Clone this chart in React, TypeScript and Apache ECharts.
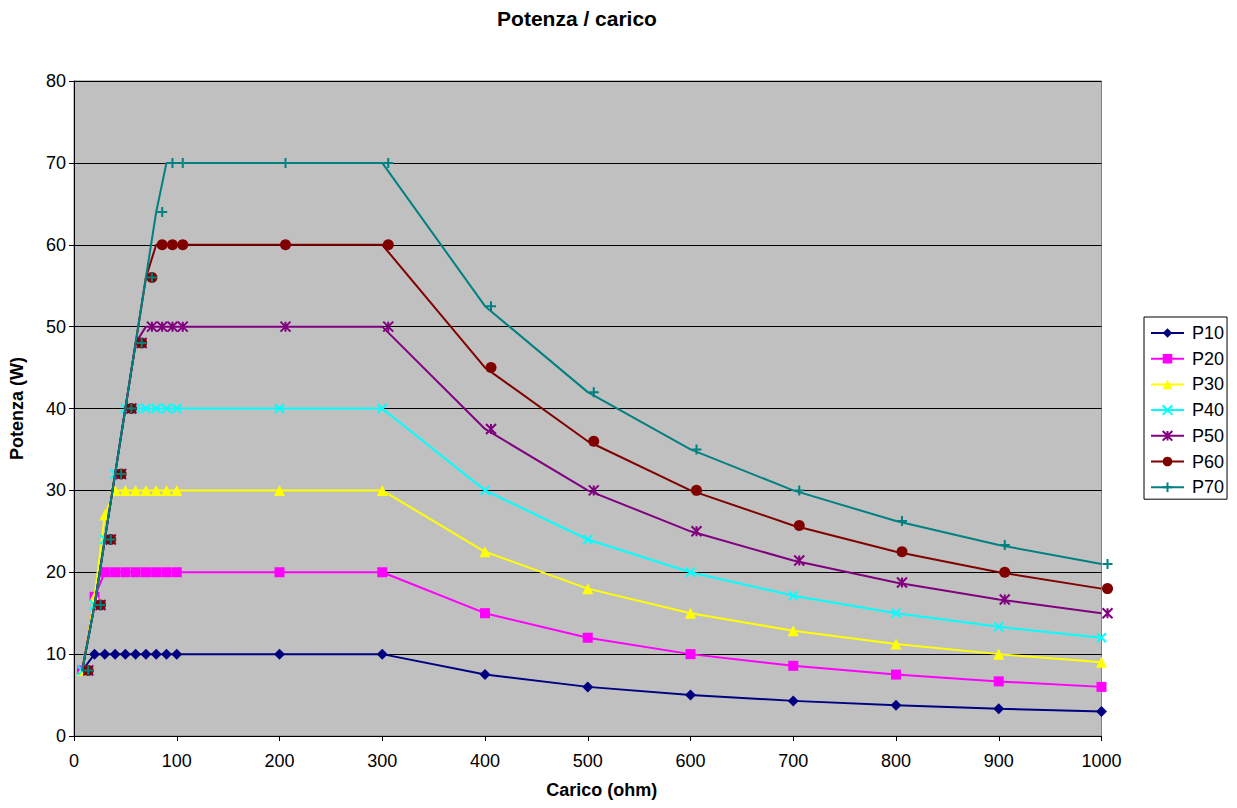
import React, { useEffect, useRef } from "react";
import * as echarts from "echarts";

// Load resistance (ohm) — shared x values
const resistance = [8, 20, 30, 40, 50, 60, 70, 80, 90, 100, 200, 300, 400, 500, 600, 700, 800, 900, 1000];

// Power (W) per series
const p10 = [8, 10, 10, 10, 10, 10, 10, 10, 10, 10, 10, 10, 7.5, 6, 5, 4.29, 3.75, 3.33, 3];
const p20 = [8, 17, 20, 20, 20, 20, 20, 20, 20, 20, 20, 20, 15, 12, 10, 8.57, 7.5, 6.67, 6];
const p30 = [8, 17, 27, 30, 30, 30, 30, 30, 30, 30, 30, 30, 22.5, 18, 15, 12.86, 11.25, 10, 9];
const p40 = [8, 16, 24, 32, 40, 40, 40, 40, 40, 40, 40, 40, 30, 24, 20, 17.14, 15, 13.33, 12];
const p50 = [8, 16, 24, 32, 40, 48, 50, 50, 50, 50, 50, 50, 37.5, 30, 25, 21.43, 18.75, 16.67, 15];
const p60 = [8, 16, 24, 32, 40, 48, 56, 60, 60, 60, 60, 60, 45, 36, 30, 25.71, 22.5, 20, 18];
const p70 = [8, 16, 24, 32, 40, 48, 56, 64, 70, 70, 70, 70, 52.5, 42, 35, 30, 26.25, 23.33, 21];

const seriesNames = ["P10", "P20", "P30", "P40", "P50", "P60", "P70"];
const seriesValues = [p10, p20, p30, p40, p50, p60, p70];

const titleText = "Potenza / carico";
const xAxisTitle = "Carico (ohm)";
const yAxisTitle = "Potenza (W)";

const FONT = "'Liberation Sans', Arial, sans-serif";

const colors = ["#000080", "#FF00FF", "#FFFF00", "#00FFFF", "#800080", "#800000", "#008080"];
const symbols = [
  "diamond",
  "rect",
  "triangle",
  "path://M0,0L10,10M10,0L0,10",
  "path://M0,0L10,10M10,0L0,10M5,0L5,10",
  "circle",
  "path://M5,0L5,10M0,5L10,5",
];
const symbolSizes = [11, 10, 11, 9, 10, 11, 10];
const stroked = [false, false, false, true, true, false, true];
const offsets = [0, 0, 0, 0, 6, 6, 6];

export default function App() {
  const ref = useRef<HTMLDivElement>(null);

  useEffect(() => {
    if (!ref.current) return;
    const chart = echarts.init(ref.current, null, { renderer: "svg" });

    const series = seriesNames.map((name, si) => ({
      type: "line",
      name,
      data: resistance.map((r, i) => [r, seriesValues[si][i]]),
      symbol: symbols[si],
      symbolSize: symbolSizes[si],
      symbolOffset: [offsets[si], 0],
      showAllSymbol: true,
      clip: false,
      lineStyle: { color: colors[si], width: 2 },
      itemStyle: stroked[si]
        ? { color: colors[si], borderColor: colors[si], borderWidth: 2 }
        : { color: colors[si], borderWidth: 0 },
      emphasis: { disabled: true },
      z: 2 + si,
    }));

    const option = {
      animation: false,
      backgroundColor: "#ffffff",
      textStyle: { fontFamily: FONT },
      graphic: [
        {
          type: "text",
          x: 577,
          y: 18,
          style: {
            text: titleText,
            font: `bold 21px ${FONT}`,
            fill: "#000",
            textAlign: "center",
            textVerticalAlign: "middle",
          },
        },
      ],
      grid: {
        left: 74,
        right: 135.5,
        top: 81,
        bottom: 72,
        show: true,
        backgroundColor: "#C0C0C0",
        borderColor: "#808080",
        borderWidth: 1,
      },
      legend: {
        orient: "vertical",
        left: 1144,
        top: 317,
        padding: [7, 3, 3, 6],
        itemWidth: 33,
        itemHeight: 12,
        itemGap: 7.7,
        backgroundColor: "#ffffff",
        borderColor: "#000000",
        borderWidth: 1,
        borderRadius: 0,
        textStyle: { fontSize: 18, color: "#000", fontFamily: FONT, padding: [0, 0, 0, 3] },
        data: seriesNames,
      },
      xAxis: {
        type: "value",
        min: 0,
        max: 1000,
        interval: 100,
        name: xAxisTitle,
        nameLocation: "middle",
        nameGap: 45,
        nameTextStyle: {
          fontSize: 18,
          fontWeight: "bold",
          color: "#000",
          fontFamily: FONT,
          padding: [0, 0, 0, 28],
        },
        axisLine: { show: true, onZero: false, lineStyle: { color: "#000", width: 1 } },
        axisTick: { show: true, length: 5, lineStyle: { color: "#000" } },
        axisLabel: {
          fontSize: 18,
          color: "#000",
          margin: 16,
          fontFamily: FONT,
          formatter: (v: number) => String(v),
        },
        splitLine: { show: false },
      },
      yAxis: {
        type: "value",
        min: 0,
        max: 80,
        interval: 10,
        name: yAxisTitle,
        nameLocation: "middle",
        nameGap: 48,
        nameTextStyle: { fontSize: 18, fontWeight: "bold", color: "#000", fontFamily: FONT },
        axisLine: { show: true, lineStyle: { color: "#000", width: 1 } },
        axisTick: { show: true, length: 5, lineStyle: { color: "#000" } },
        axisLabel: { fontSize: 18, color: "#000", margin: 8, fontFamily: FONT },
        splitLine: { show: true, lineStyle: { color: "#000", width: 1 } },
      },
      series,
    };

    chart.setOption(option as any);
    return () => chart.dispose();
  }, []);

  return (
    <div
      ref={ref}
      style={{ position: "fixed", left: 0, top: 0, width: 1237, height: 808 }}
    />
  );
}
